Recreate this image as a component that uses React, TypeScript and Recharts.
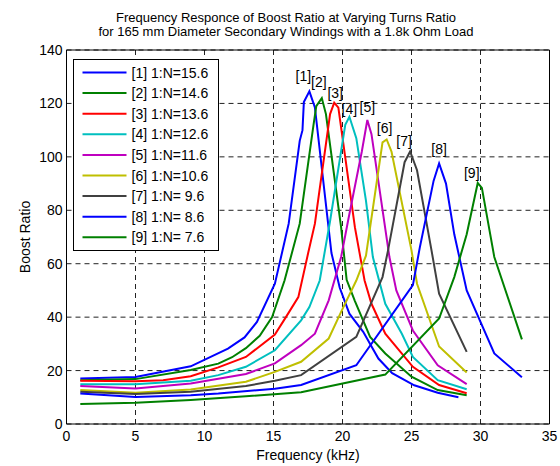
import React from 'react';
import { LineChart, Line, XAxis, YAxis, CartesianGrid, Legend, LabelList } from 'recharts';

type Pt = [number, number];

// [frequency kHz, boost ratio]
const s1: Pt[] = [[1, 17.0], [5, 17.6], [9, 21.6], [11.7, 28.2], [12.9, 32.4], [13.8, 38.2], [15.1, 52.5], [16.1, 75], [16.9, 106], [17.1, 110], [17.2, 120.5], [17.6, 124.5], [18.0, 118.5], [19.0, 73], [19.2, 64], [19.8, 51], [20.5, 41.3], [21.5, 34.5], [22.6, 24.5], [23.6, 19], [25.2, 14.5], [26.9, 11.7], [28.4, 10]];
const s2: Pt[] = [[1, 16.4], [5, 16.8], [9, 20.2], [11, 22.6], [12, 25], [13, 28.4], [14, 33], [14.9, 40], [15.8, 53.7], [16.9, 75], [17.9, 112], [18.1, 119], [18.5, 122], [18.8, 116], [19.9, 73.6], [20.3, 54], [20.9, 46], [22.0, 32.6], [23.1, 26.4], [25.0, 17.7], [26.9, 12.7], [29.0, 10.8]];
const s3: Pt[] = [[1, 16.2], [5, 16.0], [7, 16.4], [9, 17.9], [11, 21.2], [13, 25.1], [15.1, 33.5], [15.9, 40], [16.8, 47.5], [17.5, 63.7], [18.0, 75], [19.1, 116], [19.4, 120.3], [19.7, 118.4], [20.9, 73.6], [21.6, 53.7], [22.1, 45], [23.1, 33.8], [25.1, 21.4], [27.0, 14.6], [29.0, 11.5]];
const s4: Pt[] = [[1, 14.9], [5, 14.9], [9, 16.2], [11, 18.3], [13, 21.4], [15.1, 27.6], [17, 38.8], [17.6, 43.8], [18.35, 53.7], [19.1, 76], [20.2, 112], [20.5, 115], [21.0, 107], [21.7, 83.6], [22.2, 62.5], [23.1, 45], [24.3, 33.8], [25.1, 25.1], [26.9, 16.4], [29.0, 13]];
const s5: Pt[] = [[1, 14.2], [5, 13.3], [9, 15.2], [13, 18.7], [15.1, 22.7], [17, 29.5], [18, 33.8], [19, 46.3], [19.9, 62.5], [20.4, 76], [21.4, 102], [21.8, 113.8], [22.1, 108.5], [23.4, 62.5], [23.9, 50], [25.1, 35], [26.9, 22], [29.0, 14.9]];
const s6: Pt[] = [[1, 12.7], [5, 11.7], [9, 12.9], [13, 15.8], [15.1, 19.5], [17, 23.3], [19, 32], [19.9, 42], [21, 53.7], [21.7, 63], [22.9, 105.4], [23.2, 106.5], [23.55, 102], [25.0, 65], [25.4, 52.5], [27.0, 29], [29.0, 19.3]];
const s7: Pt[] = [[1, 12.1], [5, 11.2], [9, 12.1], [13, 14.2], [15.1, 16.2], [17, 18.3], [21, 32.6], [22.9, 55], [23.3, 65], [24.5, 98], [24.9, 102], [25.4, 95], [26.45, 65], [27.0, 48.8], [29.0, 27]];
const s8: Pt[] = [[1, 11.4], [5, 10.1], [9, 10.8], [11, 11.4], [15.1, 13.2], [17, 14.6], [21, 22], [25.1, 52], [25.6, 66], [26.6, 91], [27.0, 97.5], [27.5, 90], [28.1, 71], [29.0, 50], [31.0, 26.4], [33.0, 17.5]];
const s9: Pt[] = [[1, 7.5], [5, 8.0], [9, 9.0], [13, 10.4], [17, 11.9], [23.1, 18.5], [27.0, 39.5], [28.1, 55], [29.0, 71], [29.8, 90.2], [30.1, 88.4], [31.0, 62.5], [33.0, 31.7]];

const SERIES = [s1, s2, s3, s4, s5, s6, s7, s8, s9];
const RATIOS = ['15.6', '14.6', '13.6', '12.6', '11.6', '10.6', ' 9.6', ' 8.6', ' 7.6'];
const X_TICKS = [0, 5, 10, 15, 20, 25, 30, 35];
const Y_TICKS = [0, 20, 40, 60, 80, 100, 120, 140];

const COLORS = ['#0000ff', '#008000', '#ff0000', '#00bfbf', '#bf00bf', '#bfbf00', '#404040', '#0000ff', '#008000'];
// where each "[n]" tag sits relative to its peak, in px
const TAG_OFFSET = [[-6, -15], [-3, -16], [1, -10], [0, -8], [0, -13], [-2, -11], [-6, -11], [0, -15], [-6, -10]];

const FONT = "'Liberation Sans', Arial, Helvetica, sans-serif";

const peakTag = (i: number) => (props: any) => {
  const peak = Math.max(...SERIES[i].map((p) => p[1]));
  if (props.value !== peak) return null;
  const x = props.x ?? props.viewBox?.x;
  const y = props.y ?? props.viewBox?.y;
  const [dx, dy] = TAG_OFFSET[i];
  return (
    <text x={x + dx} y={y + dy} textAnchor="middle" dominantBaseline="central" fontSize={14} fontFamily={FONT} fill="#000">
      [{i + 1}]
    </text>
  );
};

const LegendBox = () => (
  <div style={{ width: 146, height: 192, boxSizing: 'border-box', border: '1px solid #000', background: '#fff' }}>
    <svg width={144} height={190} style={{ display: 'block' }}>
      {RATIOS.map((r, i) => {
        const y = 12.5 + i * 20.6;
        return (
          <g key={i}>
            <line x1={8.5} x2={52.5} y1={y} y2={y} stroke={COLORS[i]} strokeWidth={2} />
            <text x={57.5} y={y} dominantBaseline="central" fontSize={14} fontFamily={FONT} fill="#000" style={{ whiteSpace: 'pre' }}>
              {`[${i + 1}] 1:N=${r}`}
            </text>
          </g>
        );
      })}
    </svg>
  </div>
);

const tickStyle = { fontSize: 14, fill: '#000', fontFamily: FONT };

export default function App() {
  return (
    <div style={{ position: 'absolute', left: 0, top: 0, width: 560, height: 466, background: '#fff', fontFamily: FONT }}>
      <div style={{ position: 'absolute', left: 0, top: 10.5, width: 572, textAlign: 'center', fontSize: 13, lineHeight: '14.3px', color: '#000' }}>
        Frequency Responce of Boost Ratio at Varying Turns Ratio
        <br />
        for 165 mm Diameter Secondary Windings with a 1.8k Ohm Load
      </div>
      <LineChart width={560} height={466} margin={{ top: 50, right: 10.5, bottom: 12, left: 26.5 }}>
        <CartesianGrid stroke="#222" strokeDasharray="5 4" />
        <XAxis
          type="number"
          dataKey="f"
          domain={[0, 35]}
          ticks={X_TICKS}
          height={30}
          tickSize={0}
          tickMargin={7}
          tick={tickStyle}
          axisLine={{ stroke: '#000' }}
          tickLine={false}
          label={{
            content: (p: any) => (
              <text x={p.viewBox.x + p.viewBox.width / 2} y={p.viewBox.y + 31} textAnchor="middle" dominantBaseline="central" fontSize={14} fontFamily={FONT} fill="#000">
                Frequency (kHz)
              </text>
            ),
          }}
        />
        <XAxis xAxisId="top" orientation="top" type="number" domain={[0, 35]} ticks={X_TICKS} mirror tick={false} tickSize={5} axisLine={{ stroke: '#000' }} tickLine={{ stroke: '#000' }} />
        <XAxis xAxisId="bin" orientation="bottom" type="number" domain={[0, 35]} ticks={X_TICKS} mirror tick={false} tickSize={5} axisLine={false} tickLine={{ stroke: '#000' }} />
        <YAxis
          type="number"
          domain={[0, 140]}
          ticks={Y_TICKS}
          width={40}
          tickSize={0}
          tickMargin={4}
          tick={tickStyle}
          axisLine={{ stroke: '#000' }}
          tickLine={false}
          label={{
            content: (p: any) => {
              const x = p.viewBox.x - 2;
              const y = p.viewBox.y + p.viewBox.height / 2;
              return (
                <text x={x} y={y} transform={`rotate(-90, ${x}, ${y})`} textAnchor="middle" dominantBaseline="central" fontSize={14} fontFamily={FONT} fill="#000">
                  Boost Ratio
                </text>
              );
            },
          }}
        />
        <YAxis yAxisId="right" orientation="right" type="number" domain={[0, 140]} ticks={Y_TICKS} mirror tick={false} tickSize={5} axisLine={{ stroke: '#000' }} tickLine={{ stroke: '#000' }} />
        <YAxis yAxisId="lin" orientation="left" type="number" domain={[0, 140]} ticks={Y_TICKS} mirror tick={false} tickSize={5} axisLine={false} tickLine={{ stroke: '#000' }} />
        {SERIES.map((s, i) => (
          <Line
            key={i}
            data={s.map(([f, v]) => ({ f, v }))}
            dataKey="v"
            name={`[${i + 1}] 1:N=${RATIOS[i]}`}
            type="linear"
            stroke={COLORS[i]}
            strokeWidth={2}
            dot={false}
            activeDot={false}
            isAnimationActive={false}
          >
            <LabelList dataKey="v" content={peakTag(i)} />
          </Line>
        ))}
        <Legend layout="vertical" align="center" verticalAlign="middle" content={<LegendBox />} wrapperStyle={{ left: 73, top: 59, width: 146, height: 192 }} />
      </LineChart>
    </div>
  );
}
